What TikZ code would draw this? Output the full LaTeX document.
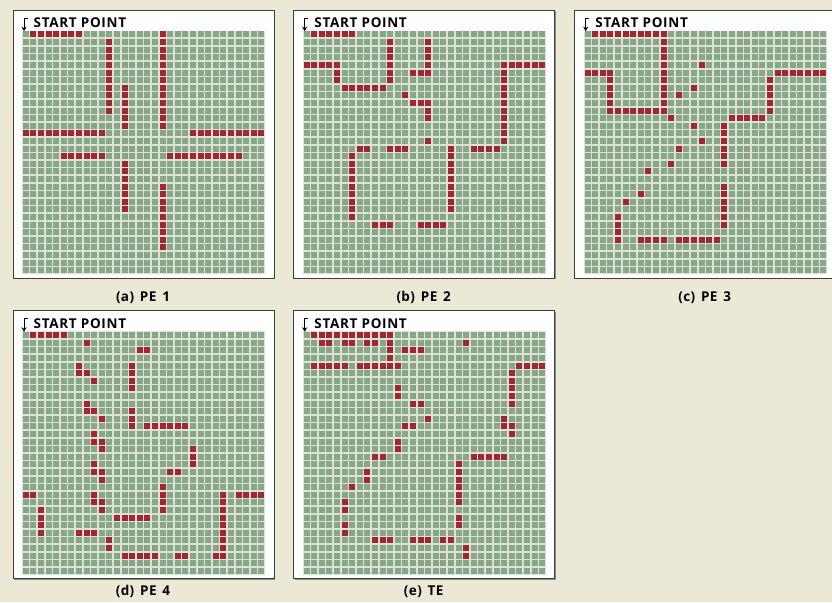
\documentclass[tikz,border=0pt]{standalone}
\usepackage{fontspec}
\usetikzlibrary{arrows.meta}
\newfontfamily\labfont{Open Sans}[LetterSpace=5]
\newfontfamily\capfont{Open Sans}[LetterSpace=3, WordSpace=1.5]
\definecolor{pagebg}{HTML}{EBE8D6}
\definecolor{cellgreen}{HTML}{88A688}
\definecolor{gapcol}{HTML}{DDE3D4}
\definecolor{cellred}{HTML}{A0262F}
\definecolor{boxline}{HTML}{3C3C3C}
\tikzset{
  panelbox/.style={fill=white, draw=boxline, line width=0.8pt},
  panelshadow/.style={fill=black!45},
  redcell/.style={fill=cellred},
  gridline/.style={draw=gapcol, line width=1.6pt},
  startlabel/.style={anchor=base west, inner sep=0pt, font=\labfont\bfseries\fontsize{13.5}{15}\selectfont},
  captionlabel/.style={anchor=base, inner sep=0pt, font=\capfont\bfseries\fontsize{13.5}{15}\selectfont},
  hookline/.style={-{Stealth[length=4.5pt,width=5pt]}, line width=1pt, draw=black}
}
\newcommand\gridpanel[6]{%
\begin{scope}[shift={(#1,#2)}]
  \fill[panelshadow] (-8,-19.7) rectangle (253,248.3);
  \draw[panelbox] (-9,-20.7) rectangle (252,247.3);
  \fill[gapcol] (0,0) rectangle (243.2,243.2);
  \fill[cellgreen] (0.8,0.8) rectangle (242.4,242.4);
  \foreach \kk in {1,...,31} {
    \draw[gridline] (\kk*7.6,0) -- (\kk*7.6,243.2);
    \draw[gridline] (0,\kk*7.6) -- (243.2,\kk*7.6);
  }
  \foreach \ca/\cb/\ra/\rb in {#6} {
    \foreach \cx in {\ca,...,\cb} {
      \foreach \ry in {\ra,...,\rb} {
        \fill[redcell] (\cx*7.6+0.8,\ry*7.6+0.8) rectangle ++(6,6);
      }
    }
  }
  \coordinate (#3bar) at (5.5,-12.5);
  \coordinate (#3hook) at (2,-12.5);
  \coordinate (#3entry) at (2,0.5);
  \draw[hookline] (#3bar) -- (#3hook) -- (#3entry);
  \node[startlabel] (#3start) at (11.5,-2.8) {START POINT};
  \node[captionlabel] (#3cap) at (121,#5) {#4};
\end{scope}}
\begin{document}
\begin{tikzpicture}[x=1pt,y=-1pt]
\useasboundingbox (0,0) rectangle (832,602);
\fill[pagebg] (0,0) rectangle (832,602);
\gridpanel{22}{30.7}{pa}{(a) PE 1}{270.5}{1/7/0/0, 18/18/0/12, 11/11/1/10, 13/13/7/12, 0/10/13/13, 22/31/13/13, 5/10/16/16, 19/28/16/16, 13/13/17/23, 18/18/20/28}
\gridpanel{302.7}{30.7}{pb}{(b) PE 2}{270.5}{1/6/0/0, 11/11/1/6, 16/16/1/5, 14/15/5/5, 0/4/4/4, 4/4/5/6, 5/10/7/7, 26/31/4/4, 26/26/5/14, 13/13/8/8, 14/16/9/9, 16/16/10/11, 16/16/14/14, 7/8/15/15, 11/13/15/15, 19/19/15/23, 22/25/15/15, 6/6/16/24, 9/11/25/25, 15/18/25/25}
\gridpanel{583.7}{30.7}{pc}{(c) PE 3}{270.5}{1/10/0/0, 10/10/1/10, 3/9/10/10, 3/3/5/9, 0/2/5/5, 15/15/4/4, 14/14/7/7, 12/12/8/8, 11/11/11/11, 19/23/11/11, 24/24/6/10, 25/31/5/5, 18/18/12/17, 14/14/12/12, 15/15/14/14, 12/12/15/15, 11/11/17/17, 8/8/18/18, 7/7/21/21, 5/5/22/22, 4/4/24/27, 18/18/20/25, 7/10/27/27, 12/17/27/27}
\gridpanel{22}{331.3}{pd}{(d) PE 4}{263.7}{1/5/0/0, 8/8/1/1, 15/16/2/2, 7/7/4/5, 8/8/5/5, 9/9/6/6, 14/14/4/7, 8/8/9/10, 9/9/10/10, 10/10/11/11, 14/14/10/12, 16/21/12/12, 9/9/13/14, 10/10/14/15, 22/22/15/17, 9/9/17/18, 10/10/18/19, 19/20/18/18, 18/18/20/23, 0/1/21/21, 9/9/21/22, 10/10/22/23, 26/26/21/29, 28/31/21/21, 2/2/23/26, 12/16/24/24, 7/9/26/26, 11/11/27/28, 13/17/29/29, 20/21/29/29, 25/25/29/29}
\gridpanel{302.7}{331.3}{pe}{(e) TE}{263.7}{1/11/0/0, 2/3/1/1, 5/6/1/1, 8/9/1/1, 11/11/1/3, 21/21/1/1, 13/15/2/2, 1/5/4/4, 7/12/4/4, 28/31/4/4, 27/27/5/9, 12/12/7/8, 14/15/9/9, 16/16/11/11, 26/26/11/12, 13/14/12/12, 27/27/12/13, 12/12/14/15, 9/10/16/16, 22/26/16/16, 20/20/17/22, 20/20/24/25, 8/8/18/19, 6/6/20/20, 5/5/22/23, 5/5/25/26, 9/11/27/27, 14/16/27/27, 18/19/27/27, 21/21/28/29}
\end{tikzpicture}
\end{document}
